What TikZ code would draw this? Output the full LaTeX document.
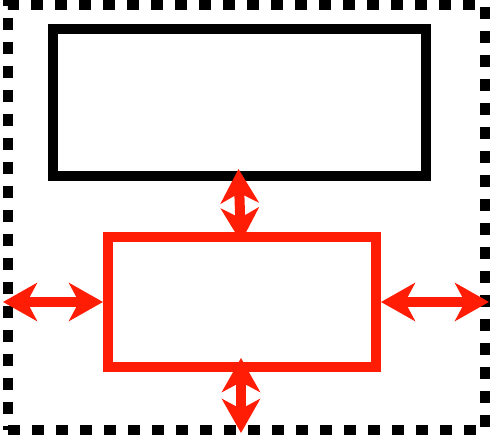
\documentclass[tikz,border=0pt]{standalone}
\usepackage{tikz}
\usepackage{xcolor}
\usetikzlibrary{arrows.meta}
\definecolor{BrightRed}{RGB}{255,30,5}
\tikzstyle{frameBlock}=[draw,line width=10pt,dash pattern=on 12pt off 12pt,minimum width=477pt,minimum height=425pt,outer sep=0pt,inner sep=0pt]
\tikzstyle{outerBlock}=[draw,line width=10pt,minimum width=373pt,minimum height=147pt,outer sep=0pt,inner sep=0pt]
\tikzstyle{innerBlock}=[draw=BrightRed,line width=10pt,minimum width=268pt,minimum height=130pt,outer sep=0pt,inner sep=0pt]
\tikzstyle{gapArrow}=[{Stealth[length=34pt,width=38pt,inset=10pt]}-{Stealth[length=34pt,width=38pt,inset=10pt]}, line width=10pt, draw=BrightRed, fill=BrightRed]

\begin{document}
\begin{tikzpicture}[x=1pt,y=-1pt]
        \useasboundingbox (0,0) rectangle (491,435);

        % Frame
        \node[frameBlock] (frame) at (246.5, 217.5) {};

        % Boxes
        \node[outerBlock] (top) at (239.5, 102.5) {};
        \node[innerBlock] (mid) at (242, 302) {};

        % Gaps
        \draw[gapArrow] ([xshift=-1pt,yshift=7pt]top.south) -- ([xshift=-1pt,yshift=-5pt]mid.north);
        \draw[gapArrow] ([xshift=-5pt]frame.west |- mid.west) -- ([xshift=-5pt]mid.west);
        \draw[gapArrow] ([xshift=5pt]mid.east) -- ([xshift=4pt]frame.east |- mid.east);
        \draw[gapArrow] ([xshift=-1pt,yshift=9pt]mid.south) -- ([xshift=-1pt,yshift=-3pt]mid.south |- frame.south);

    \end{tikzpicture}
\end{document}
